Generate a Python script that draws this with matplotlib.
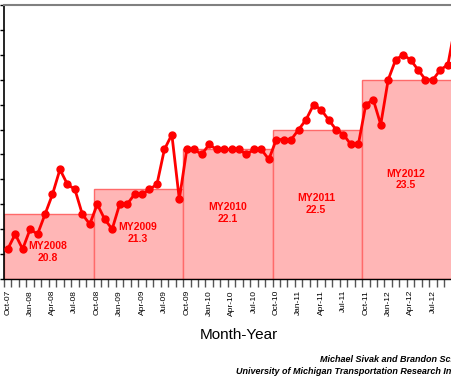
"""Monthly sales-weighted fuel economy vs model-year averages (cropped view)."""
import numpy as np
import matplotlib

matplotlib.use("Agg")
import matplotlib.pyplot as plt
from matplotlib.patches import Rectangle

plt.rcParams["font.family"] = ["Liberation Sans", "DejaVu Sans"]

# monthly average, Oct-07 .. Oct-12 (one value per month)
MPG = [20.1, 20.4, 20.1, 20.5, 20.4, 20.8, 21.2, 21.7, 21.4, 21.3, 20.8, 20.6,
       21.0, 20.7, 20.5, 21.0, 21.0, 21.2, 21.2, 21.3, 21.4, 22.1, 22.4, 21.1,
       22.1, 22.1, 22.0, 22.2, 22.1, 22.1, 22.1, 22.1, 22.0, 22.1, 22.1, 21.9,
       22.3, 22.3, 22.3, 22.5, 22.7, 23.0, 22.9, 22.7, 22.5, 22.4, 22.2, 22.2,
       23.0, 23.1, 22.6, 23.5, 23.9, 24.0, 23.9, 23.7, 23.5, 23.5, 23.7, 23.8,
       24.6]
TICK_LABELS = ["Oct-07", "Jan-08", "Apr-08", "Jul-08", "Oct-08", "Jan-09", "Apr-09",
               "Jul-09", "Oct-09", "Jan-10", "Apr-10", "Jul-10", "Oct-10", "Jan-11",
               "Apr-11", "Jul-11", "Oct-11", "Jan-12", "Apr-12", "Jul-12", "Oct-12"]
MODEL_YEARS = ["MY2008", "MY2009", "MY2010", "MY2011", "MY2012"]
MY_MPG = [20.8, 21.3, 22.1, 22.5, 23.5]

W, H = 452, 377
fig = plt.figure(figsize=(W / 100, H / 100), dpi=100)
n = len(MPG)
px_per_month = 7.46
ax = fig.add_axes([4 / W, (H - 279) / H, n * px_per_month / W, 274 / H])

# model-year blocks
lab_pos = [(5.9, 20.04), (17.96, 20.42), (30.0, 20.83), (41.8, 21.01), (53.9, 21.5)]
for k, (name, v) in enumerate(zip(MODEL_YEARS, MY_MPG)):
    x0 = 12 * k
    x1 = min(x0 + 12, n) if k < len(MODEL_YEARS) - 1 else n
    ax.add_patch(Rectangle((x0, 19.5), x1 - x0, v - 19.5, facecolor="#FFB6B6",
                           edgecolor="#FF6A6A", lw=1.0, zorder=1))
    ax.text(lab_pos[k][0], lab_pos[k][1], f"{name}\n{v}", ha="center", va="center",
            color="#FF0000", fontsize=7.5, fontweight="bold", linespacing=1.2, zorder=3)

x = np.arange(n) + 0.5
ax.plot(x, MPG, "-o", color="#FF0000", lw=2, markersize=5, zorder=4, clip_on=False)

ax.set_xlim(0, n)
ax.set_ylim(19.5, 25.0)
ax.set_yticks(np.arange(19.5, 25.01, 0.5))
ax.tick_params(axis="y", direction="out", length=3, width=1, labelleft=False)
ax.set_xticks(np.arange(0, n, 3) + 0.5)
ax.set_xticklabels(TICK_LABELS, rotation=90, fontsize=6)
ax.set_xticks(np.arange(0, n + 1), minor=True)
ax.tick_params(axis="x", which="major", length=0, pad=8)
ax.tick_params(axis="x", which="minor", direction="out", length=6, width=1, color="#555555")

for s in ["right"]:
    ax.spines[s].set_visible(False)
ax.spines["top"].set_color("#808080")
ax.spines["top"].set_linewidth(1.5)
ax.spines["left"].set_linewidth(1.2)
ax.spines["bottom"].set_linewidth(1.0)

fig.text(239 / W, 1 - 335 / H, "Month-Year", ha="center", va="center", fontsize=11)
fig.text(320 / W, 1 - 359 / H, "Michael Sivak and Brandon Schoettle", ha="left",
         va="center", fontsize=6.5, style="italic", fontweight="bold")
fig.text(236 / W, 1 - 371 / H, "University of Michigan Transportation Research Institute",
         ha="left", va="center", fontsize=6.5, style="italic", fontweight="bold")

fig.savefig("out.png", dpi=100)
